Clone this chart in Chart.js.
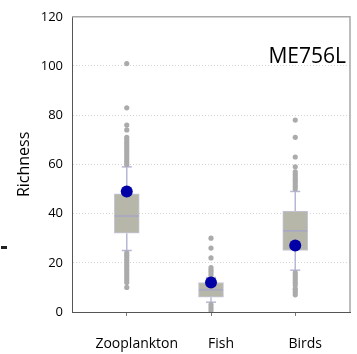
<!DOCTYPE html>
<html>
<head>
<meta charset="utf-8">
<script src="https://cdn.jsdelivr.net/npm/chart.js@4/dist/chart.umd.min.js"></script>
<style>
  html, body { margin: 0; padding: 0; background: #fff; }
  #wrap { width: 357px; height: 354px; }
</style>
</head>
<body>
<div id="wrap"><canvas id="chart" width="357" height="354"></canvas></div>
<script>
// values
const categories = ['Zooplankton', 'Fish', 'Birds'];
const q1 = [32, 6, 25];
const median = [39, 9, 33];
const q3 = [48, 12, 41];
const whiskerLow = [25, 4, 17];
const whiskerHigh = [59, 14, 49];
const observed = [49, 12, 27];
const outliers = [
    [101, 83, 76, 74, 71, 70, 69, 68, 67, 66, 65, 64, 63, 62, 61, 60,
     24, 23, 22, 21, 20, 19, 18, 17, 16, 15, 14, 13, 12, 10],
    [30, 26, 22, 18, 17, 16, 15, 3, 2, 1, 0],
    [78, 71, 63, 59, 57, 56, 55, 54, 53, 52, 51, 50,
     16, 15, 14, 13, 12, 11, 9.5, 9, 8, 7]
];
const yTicks = [0, 20, 40, 60, 80, 100, 120];
const panelLabel = 'ME756L';

const FONT = "'Open Sans', 'DejaVu Sans', sans-serif";
const whiskerColor = '#b6b6d6';
const medianColor = '#a6a6c6';

// box bodies as floating bars
const boxData = categories.map((c, i) => ({ x: i + 1, y: [q1[i], q3[i]] }));
const outlierData = [];
outliers.forEach((list, i) => list.forEach(v => outlierData.push({ x: i + 1, y: v })));
const observedData = observed.map((v, i) => ({ x: i + 1, y: v }));

// whiskers, caps and medians drawn through the chart scales
const boxExtras = {
    id: 'boxExtras',
    beforeDatasetsDraw(chart) {
        const { ctx, scales: { x, y } } = chart;
        ctx.save();
        ctx.strokeStyle = whiskerColor;
        ctx.lineWidth = 1.5;
        categories.forEach((c, i) => {
            const px = x.getPixelForValue(i + 1);
            const segs = [[whiskerLow[i], q1[i]], [q3[i], whiskerHigh[i]]];
            segs.forEach(s => {
                ctx.beginPath();
                ctx.moveTo(px, y.getPixelForValue(s[0]));
                ctx.lineTo(px, y.getPixelForValue(s[1]));
                ctx.stroke();
            });
            [whiskerLow[i], whiskerHigh[i]].forEach(v => {
                const py = y.getPixelForValue(v);
                ctx.beginPath();
                ctx.moveTo(px - 5, py);
                ctx.lineTo(px + 5, py);
                ctx.stroke();
            });
        });
        ctx.restore();
    },
    afterDatasetDraw(chart, args) {
        if (args.index !== 2) return;
        const { ctx, scales: { x, y } } = chart;
        ctx.save();
        ctx.strokeStyle = medianColor;
        ctx.lineWidth = 1.5;
        categories.forEach((c, i) => {
            const px = x.getPixelForValue(i + 1);
            const py = y.getPixelForValue(median[i]);
            ctx.beginPath();
            ctx.moveTo(px - 12, py);
            ctx.lineTo(px + 12, py);
            ctx.stroke();
        });
        ctx.restore();
    },
    afterDraw(chart) {
        const { ctx, chartArea } = chart;
        ctx.save();
        // light frame on top and right
        ctx.strokeStyle = '#a8a8a8';
        ctx.lineWidth = 1.5;
        ctx.beginPath();
        ctx.moveTo(chartArea.left, chartArea.top);
        ctx.lineTo(chartArea.right, chartArea.top);
        ctx.lineTo(chartArea.right, chartArea.bottom);
        ctx.stroke();
        // panel label
        ctx.fillStyle = '#000';
        ctx.font = '21px ' + FONT;
        ctx.textAlign = 'right';
        ctx.textBaseline = 'alphabetic';
        ctx.fillText(panelLabel, chartArea.right - 4, chartArea.top + 46);
        // stray dash at the left edge
        ctx.fillStyle = '#222';
        ctx.fillRect(1, 246, 6, 3);
        ctx.restore();
    }
};

new Chart(document.getElementById('chart'), {
    type: 'bar',
    data: {
        datasets: [
            {
                type: 'scatter',
                data: observedData,
                backgroundColor: '#0000a6',
                borderWidth: 0,
                pointRadius: 6,
                order: 0
            },
            {
                type: 'scatter',
                data: outlierData,
                backgroundColor: '#ababab',
                borderWidth: 0,
                pointRadius: 2.6,
                order: 1
            },
            {
                type: 'bar',
                data: boxData,
                backgroundColor: '#b7b7a9',
                borderColor: '#c6c6dc',
                borderWidth: 1,
                borderSkipped: false,
                barThickness: 25,
                order: 2
            }
        ]
    },
    options: {
        responsive: false,
        animation: false,
        layout: { padding: { top: 16, right: 7, left: 0, bottom: 0 } },
        plugins: {
            legend: { display: false },
            tooltip: { enabled: false }
        },
        scales: {
            x: {
                type: 'linear',
                min: 0.35,
                max: 3.65,
                offset: false,
                afterBuildTicks: s => { s.ticks = categories.map((c, i) => ({ value: i + 1 })); },
                afterFit: s => { s.height = 42; },
                ticks: {
                    callback: v => categories[Math.round(v) - 1] || '',
                    font: { family: FONT, size: 14 },
                    color: '#000',
                    padding: 20,
                    labelOffset: 10,
                    maxRotation: 0
                },
                grid: { drawOnChartArea: false, drawTicks: true, tickLength: 4, color: '#777', offset: false },
                border: { color: '#555', width: 1 }
            },
            y: {
                min: 0,
                max: 120,
                afterBuildTicks: s => { s.ticks = yTicks.map(v => ({ value: v })); },
                afterFit: s => { s.width = 72; },
                ticks: {
                    font: { family: FONT, size: 13 },
                    color: '#000',
                    padding: 9
                },
                grid: {
                    drawTicks: false,
                    color: ctx => (ctx.tick && (ctx.tick.value === 0 || ctx.tick.value === 120)) ? 'rgba(0,0,0,0)' : '#d4d4d4'
                },
                border: { color: '#555', width: 1, dash: [1, 2] },
                title: {
                    display: true,
                    text: 'Richness',
                    font: { family: FONT, size: 16 },
                    color: '#000',
                    padding: { top: 15, bottom: 0 }
                }
            }
        }
    },
    plugins: [boxExtras]
});
</script>
</body>
</html>
